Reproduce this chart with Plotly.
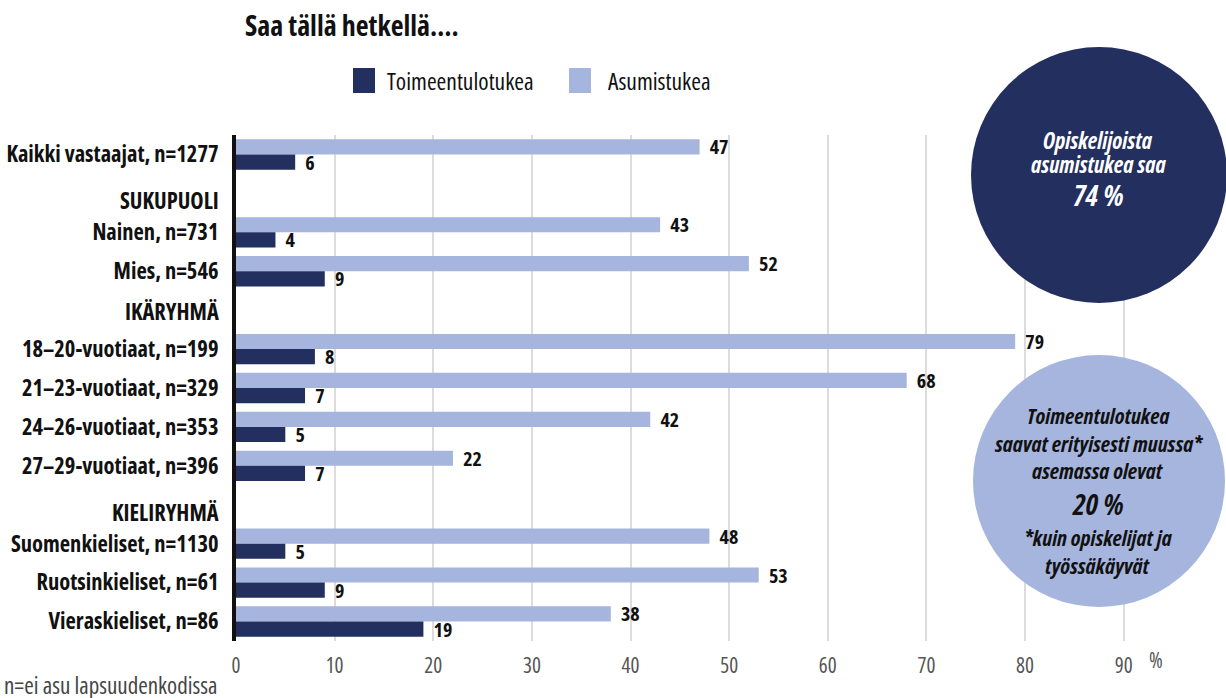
import plotly.graph_objects as go

# ---- data ----
categories = [
    "Kaikki vastaajat, n=1277",
    "SUKUPUOLI",
    "Nainen, n=731",
    "Mies, n=546",
    "IKÄRYHMÄ",
    "18–20-vuotiaat, n=199",
    "21–23-vuotiaat, n=329",
    "24–26-vuotiaat, n=353",
    "27–29-vuotiaat, n=396",
    "KIELIRYHMÄ",
    "Suomenkieliset, n=1130",
    "Ruotsinkieliset, n=61",
    "Vieraskieliset, n=86",
]
headers = ["SUKUPUOLI", "IKÄRYHMÄ", "KIELIRYHMÄ"]
asumistukea = [47, None, 43, 52, None, 79, 68, 42, 22, None, 48, 53, 38]
toimeentulotukea = [6, None, 4, 9, None, 8, 7, 5, 7, None, 5, 9, 19]
series_names = ["Toimeentulotukea", "Asumistukea"]
x_ticks = [0, 10, 20, 30, 40, 50, 60, 70, 80, 90]

DARK = "#232f5f"
LIGHT = "#a5b5de"
FONT = "Open Sans, Roboto Condensed, sans-serif"

W, H = 1226, 698
L, R_PX, T, B_PX = 236, 1173, 135, 641


def C(t):
    return f"<span style='font-stretch:75%'>{t}</span>"


def px(x):
    return (x - L) / (R_PX - L)


def py(y):
    return (B_PX - y) / (B_PX - T)


def lbl(v):
    return "" if v is None else C("\u00a0\u00a0" + str(v))


fig = go.Figure()
fig.add_trace(go.Bar(
    y=categories, x=asumistukea, orientation="h", name=series_names[1],
    marker=dict(color=LIGHT, line=dict(width=0)),
    text=[lbl(v) for v in asumistukea], textposition="outside", constraintext="none",
    textfont=dict(family=FONT, size=20, color="#111", weight="bold"),
    cliponaxis=False,
))
fig.add_trace(go.Bar(
    y=categories, x=toimeentulotukea, orientation="h", name=series_names[0],
    marker=dict(color=DARK, line=dict(width=0)),
    text=[lbl(v) for v in toimeentulotukea], textposition="outside", constraintext="none",
    textfont=dict(family=FONT, size=20, color="#111", weight="bold"),
    cliponaxis=False,
))

fig.update_layout(
    width=W, height=H,
    margin=dict(l=L, r=W - R_PX, t=T, b=H - B_PX, autoexpand=False),
    paper_bgcolor="white", plot_bgcolor="white",
    barmode="group", bargap=0.22, bargroupgap=0.0,
    showlegend=False,
    font=dict(family=FONT),
)
fig.update_xaxes(
    range=[0, 95], tickvals=x_ticks, ticktext=[C(str(t)) for t in x_ticks],
    showgrid=True, gridcolor="#dcdcdc", gridwidth=2,
    zeroline=False, showline=False, automargin=False,
    ticks="outside", ticklen=6, tickcolor="rgba(0,0,0,0)",
    tickfont=dict(family=FONT, size=21, color="#555"),
)
fig.update_yaxes(
    categoryorder="array", categoryarray=categories, autorange="reversed",
    tickvals=categories, ticktext=["" if c in headers else C(c) for c in categories],
    showgrid=False, zeroline=False, automargin=False,
    showline=True, linecolor="#111", linewidth=4,
    ticks="outside", ticklen=9, tickcolor="rgba(0,0,0,0)",
    tickfont=dict(family=FONT, size=22.5, color="#111", weight="bold"),
)

# section header labels (placed on their category rows, nudged down like the reference)
header_shift = {"SUKUPUOLI": -7, "IKÄRYHMÄ": -1, "KIELIRYHMÄ": -8}
for h in headers:
    fig.add_annotation(xref="paper", yref="y", x=px(221), y=h, xanchor="right", yanchor="middle",
                       yshift=header_shift[h], text=C(f"<b>{h}</b>"), showarrow=False,
                       font=dict(family=FONT, size=22.5, color="#111"))

# title
fig.add_annotation(xref="paper", yref="paper", x=px(243), y=py(25), xanchor="left", yanchor="middle",
                   text=C("<b>Saa tällä hetkellä….</b>"), showarrow=False,
                   font=dict(family=FONT, size=28, color="#111"))

# legend (manual)
fig.add_shape(type="rect", xref="paper", yref="paper", x0=px(353), x1=px(375), y0=py(93), y1=py(68),
              fillcolor=DARK, line=dict(width=0))
fig.add_annotation(xref="paper", yref="paper", x=px(385), y=py(81), xanchor="left", yanchor="middle",
                   text=C(series_names[0]), showarrow=False, font=dict(family=FONT, size=23.5, color="#111"))
fig.add_shape(type="rect", xref="paper", yref="paper", x0=px(569), x1=px(591), y0=py(93), y1=py(68),
              fillcolor=LIGHT, line=dict(width=0))
fig.add_annotation(xref="paper", yref="paper", x=px(606), y=py(81), xanchor="left", yanchor="middle",
                   text=C(series_names[1]), showarrow=False, font=dict(family=FONT, size=23.5, color="#111"))


# circles
def circle(cx, cy, r, color):
    fig.add_shape(type="circle", xref="paper", yref="paper",
                  xsizemode="pixel", ysizemode="pixel",
                  xanchor=px(cx), yanchor=py(cy),
                  x0=-r, x1=r, y0=-r, y1=r,
                  fillcolor=color, line=dict(width=0), layer="above")


circle(1099, 175, 128, DARK)
circle(1099, 481, 126, LIGHT)


def ctext(y, text, size, color):
    fig.add_annotation(xref="paper", yref="paper", x=px(1098), y=py(y), xanchor="center", yanchor="middle",
                       text=C(f"<b><i>{text}</i></b>"), showarrow=False, borderpad=0,
                       font=dict(family=FONT, size=size, color=color))


ctext(140, "Opiskelijoista", 22.5, "white")
ctext(164, "asumistukea saa", 22.5, "white")
ctext(194, "74 %", 29, "white")

ctext(415, "Toimeentulotukea", 22, "#111")
ctext(443, "saavat erityisesti muussa*", 22, "#111")
ctext(470, "asemassa olevat", 22, "#111")
ctext(503, "20 %", 29, "#111")
ctext(537, "*kuin opiskelijat ja", 22, "#111")
ctext(565, "työssäkäyvät", 22, "#111")

# % unit and footnote
fig.add_annotation(xref="paper", yref="paper", x=px(1156), y=py(660), xanchor="center", yanchor="middle",
                   text=C("%"), showarrow=False, font=dict(family=FONT, size=21, color="#555"))
fig.add_annotation(xref="paper", yref="paper", x=px(3), y=py(685), xanchor="left", yanchor="middle",
                   text=C("n=ei asu lapsuudenkodissa"), showarrow=False, borderpad=0,
                   font=dict(family=FONT, size=23, color="#444"))

fig.write_html("out.html", config={"displayModeBar": False},
               post_script="document.body.style.margin='0';document.body.style.padding='0';")
